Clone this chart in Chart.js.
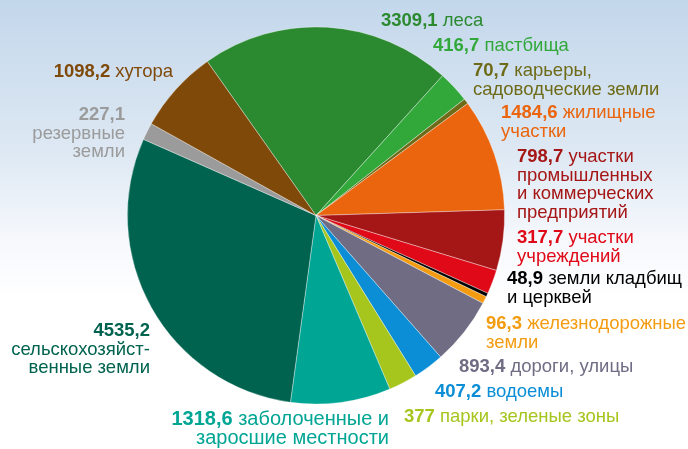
<!DOCTYPE html>
<html>
<head>
<meta charset="utf-8">
<script src="https://cdn.jsdelivr.net/npm/chart.js@4"></script>
<style>
  html, body { margin: 0; padding: 0; }
  body { width: 688px; height: 449px; background: linear-gradient(to bottom, #c3d7eb 0px, #dde8f3 150px, #f6f8fc 240px, #ffffff 300px); }
  #wrap { width: 688px; height: 449px; position: relative; }
</style>
</head>
<body>
<div id="wrap"><canvas id="landChart"></canvas></div>
<script>
// площади по категориям, га
const categories = [
    ['леса'],
    ['пастбища'],
    ['карьеры,', 'садоводческие земли'],
    ['жилищные', 'участки'],
    ['участки', 'промышленных', 'и коммерческих', 'предприятий'],
    ['участки', 'учреждений'],
    ['земли кладбищ', 'и церквей'],
    ['железнодорожные', 'земли'],
    ['дороги, улицы'],
    ['водоемы'],
    ['парки, зеленые зоны'],
    ['заболоченные и', 'заросшие местности'],
    ['', 'сельскохозяйст-', 'венные земли'],
    ['', 'резервные', 'земли'],
    ['хутора']
];
const areaValues = [3309.1, 416.7, 70.7, 1484.6, 798.7, 317.7, 48.9, 96.3, 893.4, 407.2, 377, 1318.6, 4535.2, 227.1, 1098.2];
const sliceColors = ['#2b8a2f', '#32a83b', '#6e6b18', '#ea650d', '#a51716', '#e00917', '#000000', '#f39c11',
    '#6f6c84', '#0b8ed5', '#a6c51d', '#00a594', '#00634f', '#9b9b9b', '#7f4a09'];
const textColors = ['#2b8a2f', '#32a83b', '#6e6b18', '#ea650d', '#a51716', '#e00917', '#000000', '#f39c11',
    '#6f6c84', '#0b8ed5', '#a6c51d', '#00a594', '#00634f', '#9b9b9b', '#7f4a09'];

// где стоят подписи: x, базовая линия первой строки, выравнивание, кегль
const labelSpots = [
    [381, 26, 'left', 18.5], [433, 51, 'left', 18.5], [473, 76, 'left', 18.5], [501, 118, 'left', 18.5],
    [517, 162, 'left', 18.5], [517, 243, 'left', 18.5], [507, 284, 'left', 18.5], [486, 329, 'left', 18.5],
    [459, 372, 'left', 18.5], [435, 397, 'left', 18.5], [404, 422, 'left', 18.5], [389, 425, 'right', 20],
    [150, 336, 'right', 18.5], [125, 120, 'right', 18.5], [173, 77, 'right', 18.5]
];

const fontFamily = '"Liberation Sans", Arial, sans-serif';
const lineGap = 18.7;

const fmt = v => String(v).replace('.', ',');

const outsideLabels = {
    id: 'outsideLabels',
    afterDraw(chart) {
        const c = chart.ctx;
        c.save();
        c.textBaseline = 'alphabetic';
        areaValues.forEach((v, i) => {
            const [x, y, align, size] = labelSpots[i];
            const lines = categories[i];
            c.fillStyle = textColors[i];
            lines.forEach((line, k) => {
                const ly = y + k * lineGap;
                if (k === 0) {
                    const boldText = fmt(v);
                    const restText = line ? ' ' + line : '';
                    c.font = 'bold ' + size + 'px ' + fontFamily;
                    const wb = c.measureText(boldText).width;
                    c.font = size + 'px ' + fontFamily;
                    const wr = c.measureText(restText).width;
                    const startX = align === 'right' ? x - wb - wr : x;
                    c.textAlign = 'left';
                    c.font = 'bold ' + size + 'px ' + fontFamily;
                    c.fillText(boldText, startX, ly);
                    c.font = size + 'px ' + fontFamily;
                    c.fillText(restText, startX + wb, ly);
                } else {
                    c.font = size + 'px ' + fontFamily;
                    c.textAlign = align;
                    c.fillText(line, x, ly);
                }
            });
        });
        c.restore();
    }
};

const landChart = new Chart(document.getElementById('landChart'), {
    type: 'pie',
    data: {
        labels: categories.map(l => l.filter(Boolean).join(' ')),
        datasets: [{
            data: areaValues,
            backgroundColor: sliceColors,
            borderColor: 'rgba(255,255,255,0.45)',
            borderWidth: 0.8
        }]
    },
    options: {
        responsive: true,
        maintainAspectRatio: false,
        animation: false,
        rotation: -35.2,
        layout: {
            padding: { top: 26, bottom: 44, left: 127, right: 183 }
        },
        plugins: {
            legend: { display: false },
            tooltip: { enabled: false }
        }
    },
    plugins: [outsideLabels]
});
</script>
</body>
</html>
